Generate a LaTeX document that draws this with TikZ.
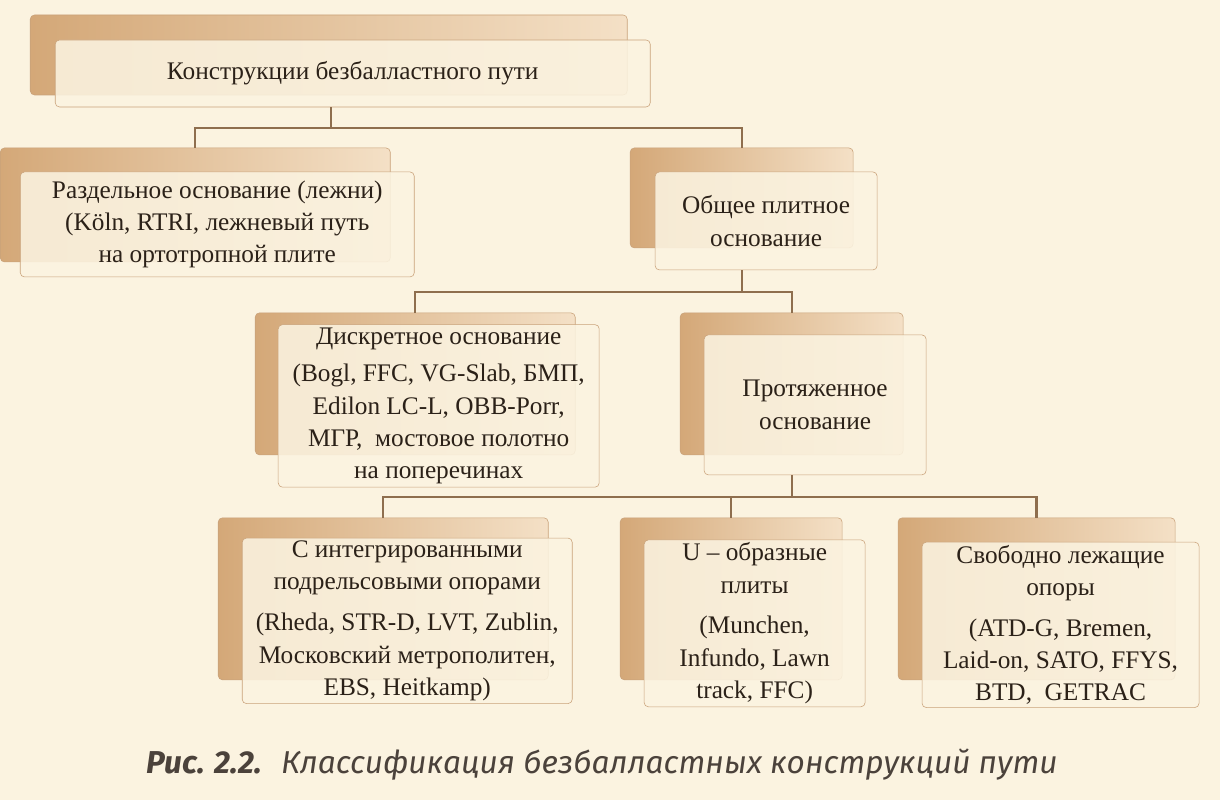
\documentclass[tikz,border=0pt]{standalone}
\usepackage{fontspec}
\setmainfont{Liberation Serif}
\newfontfamily\capfont{Fira Sans}
\definecolor{paper}{HTML}{FBF3E0}
\definecolor{tan}{HTML}{D4A878}
\definecolor{tanlight}{HTML}{F4E0C6}
\definecolor{rim}{HTML}{C9A27A}
\definecolor{linkc}{HTML}{8E6E4E}
\definecolor{ink}{HTML}{2B2118}
\begin{document}
\begin{tikzpicture}[x=0.025cm,y=-0.025cm,
            back box/.style={rectangle,rounded corners=3pt,draw=rim,left color=tan,right color=tanlight,inner sep=0pt},
            front box/.style={rectangle,rounded corners=3pt,draw=rim,fill=paper,fill opacity=0.88,text opacity=1,text=ink,align=center,inner sep=2pt,font=\fontsize{18}{23}\selectfont},
            link/.style={linkc,line width=1.6pt},
            ]
            \fill[paper] (0,0) rectangle (1220,800);

            % back boxes
            \node[back box, minimum width=14.925cm, minimum height=2cm] (topb) at (328.5,55) {};
            \node[back box, minimum width=9.75cm, minimum height=2.85cm] (sepb) at (195,205) {};
            \node[back box, minimum width=5.575cm, minimum height=2.5cm] (comb) at (741.5,198) {};
            \node[back box, minimum width=8cm, minimum height=3.55cm] (discb) at (415,384) {};
            \node[back box, minimum width=5.575cm, minimum height=3.55cm] (protb) at (791.5,384) {};
            \node[back box, minimum width=8.25cm, minimum height=4.05cm] (intb) at (383,599) {};
            \node[back box, minimum width=5.55cm, minimum height=4.05cm] (ub) at (731,599) {};
            \node[back box, minimum width=6.925cm, minimum height=4.05cm] (freeb) at (1036.5,599) {};

            % front boxes
            \node[front box, minimum width=14.875cm, minimum height=1.675cm] (top) at (352.5,73.5) {Конструкции безбалластного пути};
            \node[front box, minimum width=9.85cm, minimum height=2.625cm] (sep) at (217,224.5) {Раздельное основание (лежни)\\(Köln, RTRI, лежневый путь\\на ортотропной плите};
            \node[front box, minimum width=5.55cm, minimum height=2.45cm] (com) at (766,221) {Общее плитное\\основание};
            \node[front box, minimum width=8.025cm, minimum height=3.45cm] (disc) at (438.5,406) {Дискретное основание\\[4pt](Bogl, FFC, VG-Slab, БМП,\\Edilon LC-L, OBB-Porr,\\МГР,~ мостовое полотно\\на поперечинах};
            \node[front box, minimum width=5.55cm, minimum height=3.5cm] (prot) at (815,405) {Протяженное\\основание};
            \node[front box, minimum width=8.25cm, minimum height=3.95cm] (int) at (407,621) {С интегрированными\\подрельсовыми опорами\\[6pt](Rheda, STR-D, LVT, Zublin,\\Московский метрополитен,\\EBS, Heitkamp)};
            \node[front box, minimum width=5.525cm, minimum height=4.075cm] (u) at (754.5,623.5) {U – образные\\плиты\\[6pt](Munchen,\\Infundo, Lawn\\track, FFC)};
            \node[front box, minimum width=6.925cm, minimum height=4cm] (free) at (1060.5,625) {Свободно лежащие\\опоры\\[6pt](ATD-G, Bremen,\\Laid-on, SATO, FFYS,\\BTD,~ GETRAC};

            % connectors
            \draw[link] ([xshift=-0.55cm]top.south) -- ++(0,21) -| (sepb.north);
            \draw[link] ([xshift=-0.55cm]top.south) -- ++(0,21) -| (comb.north);
            \draw[link] (comb.center |- com.south) -- ++(0,22) -| (discb.north);
            \draw[link] (comb.center |- com.south) -- ++(0,22) -| (protb.north);
            \draw[link] (protb.center |- prot.south) -- ++(0,22) -| (intb.north);
            \draw[link] (protb.center |- prot.south) -- ++(0,22) -| (ub.north);
            \draw[link] (protb.center |- prot.south) -- ++(0,22) -| (freeb.north);

            \node[text=ink!85, font=\capfont\itshape\fontsize{22.5}{27}\selectfont] (cap) at (602,765) {\textbf{Рис. 2.2.}~ Классификация безбалластных конструкций пути};
        \end{tikzpicture}
\end{document}
